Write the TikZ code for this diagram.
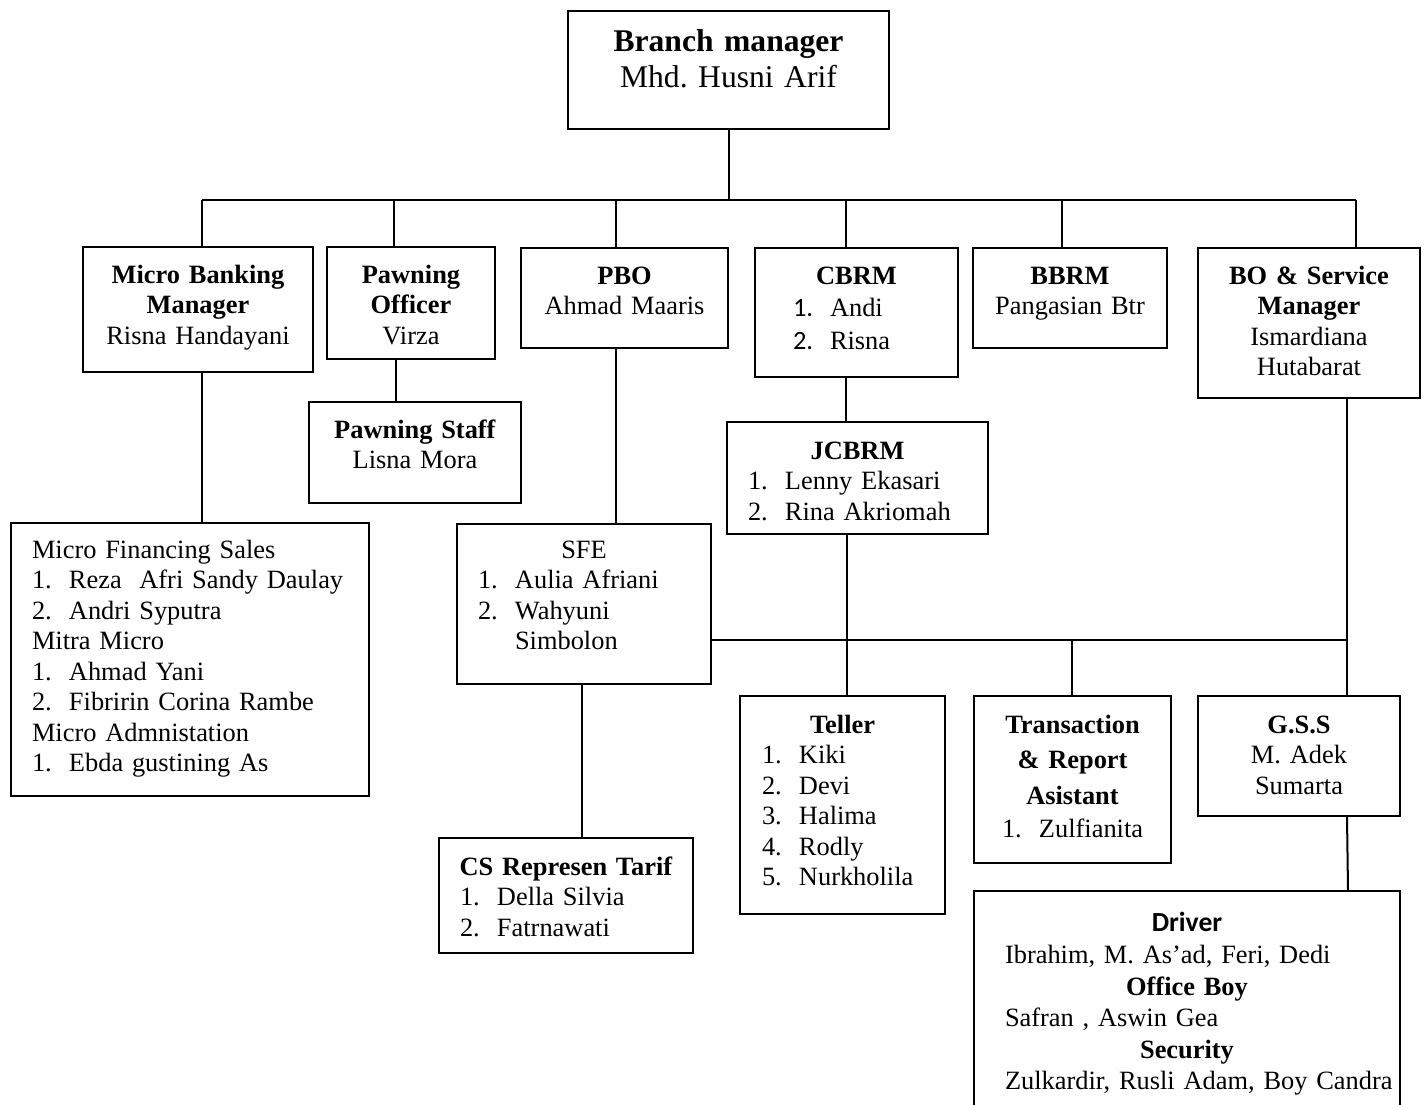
\documentclass[tikz,border=0pt]{standalone}
\usepackage{fontspec}
\setmainfont[WordSpace=0.8]{Liberation Serif}
\newfontfamily\calibri{Carlito}
\usetikzlibrary{positioning}
\frenchspacing

% one numbered line of a list, kept at a fixed width so it lines up
\newcommand{\numline}[3]{\makebox[#1][l]{\makebox[18.5pt][l]{#2}#3}}

\tikzset{
    box/.style={draw, line width=1pt, inner sep=0pt, anchor=north west, align=center,
        font=\fontsize{13.2}{15.25}\selectfont},
    link/.style={line width=1pt}
}

\begin{document}
\begin{tikzpicture}[x=0.5pt,y=-0.5pt]
    \useasboundingbox (0,0) rectangle (1424,1104);

    % top
    \node[box, font=\fontsize{15.8}{18}\selectfont, text width=160.5pt, text height=20pt, text depth=39pt]
        (bm) at (567,10) {\textbf{Branch manager}\\Mhd. Husni Arif};

    % second row
    \node[box, text width=115pt, text height=18pt, text depth=44.5pt] (mbm) at (82,246)
        {\textbf{Micro Banking}\\\textbf{Manager}\\Risna Handayani};
    \node[box, text width=84pt, text height=18pt, text depth=38pt] (pawn) at (326,246)
        {\textbf{Pawning}\\\textbf{Officer}\\Virza};
    \node[box, text width=103.5pt, text height=18pt, text depth=32pt] (pbo) at (520,247)
        {\textbf{PBO}\\Ahmad Maaris};
    \node[box, text width=101.5pt, text height=18pt, text depth=46.5pt] (cbrm) at (754,247)
        {\textbf{CBRM}\\[1pt]\numline{63.5pt}{\calibri 1.}{Andi}\\[1pt]\numline{63.5pt}{\calibri 2.}{Risna}};
    \node[box, text width=97pt, text height=18pt, text depth=32pt] (bbrm) at (972,247)
        {\textbf{BBRM}\\Pangasian Btr};
    \node[box, text width=111pt, text height=18pt, text depth=57pt] (bo) at (1197,247)
        {\textbf{BO \& Service}\\\textbf{Manager}\\Ismardiana\\Hutabarat};

    % under the second row
    \node[box, text width=106pt, text height=18pt, text depth=32.5pt] (pstaff) at (308,401)
        {\textbf{Pawning Staff}\\Lisna Mora};
    \node[box, text width=130.5pt, text height=18.5pt, text depth=37.5pt] (jcbrm) at (726,421)
        {\textbf{JCBRM}\\\numline{109.5pt}{1.}{Lenny Ekasari}\\\numline{109.5pt}{2.}{Rina Akriomah}};
    \node[box, text width=179pt, text height=17.5pt, text depth=119pt] (micro) at (10,522)
        {\makebox[158pt][l]{Micro Financing Sales}\\
         \numline{158pt}{1.}{Reza\ \ Afri Sandy Daulay}\\
         \numline{158pt}{2.}{Andri Syputra}\\
         \makebox[158pt][l]{Mitra Micro}\\
         \numline{158pt}{1.}{Ahmad Yani}\\
         \numline{158pt}{2.}{Fibririn Corina Rambe}\\
         \makebox[158pt][l]{Micro Admnistation}\\
         \numline{158pt}{1.}{Ebda gustining As}};
    \node[box, text width=127pt, text height=17pt, text depth=63pt] (sfe) at (456,523)
        {SFE\\\numline{106pt}{1.}{Aulia Afriani}\\\numline{106pt}{2.}{Wahyuni}\\\numline{106pt}{}{Simbolon}};
    \node[box, text width=127pt, text height=18.5pt, text depth=39pt] (cs) at (438,837)
        {\textbf{CS Represen Tarif}\\\numline{106pt}{1.}{Della Silvia}\\\numline{106pt}{2.}{Fatrnawati}};

    % bottom right group
    \node[box, text width=102.5pt, text height=18.5pt, text depth=90.5pt] (teller) at (739,695)
        {\textbf{Teller}\\\numline{80.5pt}{1.}{Kiki}\\\numline{80.5pt}{2.}{Devi}\\\numline{80.5pt}{3.}{Halima}\\
         \numline{80.5pt}{4.}{Rodly}\\\numline{80.5pt}{5.}{Nurkholila}};
    \node[box, text width=98.5pt, text height=18.5pt, text depth=65pt] (trans) at (973,695)
        {\textbf{Transaction}\\[2.5pt]\textbf{\& Report}\\[2.5pt]\textbf{Asistant}\\[1.5pt]\numline{70.5pt}{1.}{Zulfianita}};
    \node[box, text width=101pt, text height=18.5pt, text depth=41.5pt] (gss) at (1197,695)
        {\textbf{G.S.S}\\M. Adek\\Sumarta};
    \node[box, text width=213pt, text height=20pt, text depth=110pt] (driver) at (973,890)
        {{\calibri\bfseries\fontsize{13.8}{15.25}\selectfont Driver}\\[1pt]
         \makebox[182pt][l]{Ibrahim, M. As'ad, Feri, Dedi}\\[0.5pt]
         \textbf{Office Boy}\\[0.5pt]
         \makebox[182pt][l]{Safran , Aswin Gea}\\[0.5pt]
         \textbf{Security}\\[0.5pt]
         \makebox[182pt][l]{Zulkardir, Rusli Adam, Boy Candra}};

    % main bus
    \coordinate (busl) at (202,200);
    \coordinate (busr) at (1356,200);
    \draw[link] (bm.south) -- (bm.south |- busl);
    \draw[link] (busl) -- (busr);
    \foreach \x/\n in {202/mbm, 394/pawn, 616/pbo, 846/cbrm, 1062/bbrm, 1356/bo}
        \draw[link] (\x,200) -- (\x,0 |- \n.north);

    % vertical links
    \draw[link] (202,0 |- mbm.south) -- (202,0 |- micro.north);
    \draw[link] (396,0 |- pawn.south) -- (396,0 |- pstaff.north);
    \draw[link] (616,0 |- pbo.south) -- (616,0 |- sfe.north);
    \draw[link] (846,0 |- cbrm.south) -- (846,0 |- jcbrm.north);
    \draw[link] (847,0 |- jcbrm.south) -- (847,0 |- teller.north);
    \draw[link] (582,0 |- sfe.south) -- (582,0 |- cs.north);
    \draw[link] (1347,0 |- bo.south) -- (1347,0 |- gss.north);
    \draw[link] (1347,0 |- gss.south) -- (1348,0 |- driver.north);

    % lower bus
    \coordinate (lbus) at (1347,640);
    \draw[link] (sfe.east |- lbus) -- (lbus);
    \draw[link] (1072,640) -- (1072,0 |- trans.north);
\end{tikzpicture}
\end{document}
